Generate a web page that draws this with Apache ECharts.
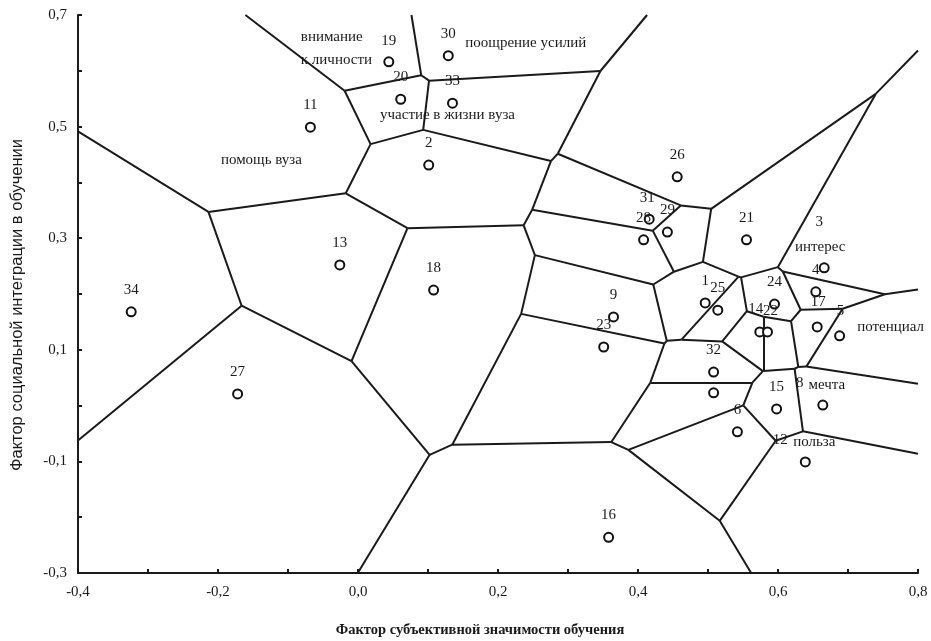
<!DOCTYPE html>
<html><head><meta charset="utf-8">
<script src="https://cdn.jsdelivr.net/npm/echarts@6/dist/echarts.min.js"></script>
<style>html,body{margin:0;padding:0;background:#fff}#c{width:931px;height:641px}</style>
</head><body><div id="c"></div>
<script>
// ---- data ----
const pointIds = ['1','2','3','4','5','6','8','9','10','11','12','13','14','15','16','17','18','19','20','21','22','23','24','25','26','27','28','29','30','31','32','33','34'];
const pointX = [0.496,0.101,0.666,0.654,0.688,0.542,0.664,0.365,0.508,-0.068,0.639,-0.026,0.574,0.598,0.358,0.656,0.108,0.044,0.061,0.555,0.585,0.351,0.595,0.514,0.456,-0.172,0.408,0.442,0.129,0.416,0.508,0.135,-0.324];
const pointY = [0.184,0.431,0.247,0.204,0.125,-0.047,0.001,0.159,0.023,0.499,-0.101,0.252,0.132,-0.006,-0.236,0.141,0.207,0.616,0.549,0.297,0.132,0.105,0.182,0.171,0.410,0.021,0.297,0.311,0.627,0.334,0.060,0.542,0.168];
const xTickValues = [-0.4,-0.2,0.0,0.2,0.4,0.6,0.8];
const xTickLabels = ['-0,4','-0,2','0,0','0,2','0,4','0,6','0,8'];
const yTickValues = [-0.3,-0.1,0.1,0.3,0.5,0.7];
const yTickLabels = ['-0,3','-0,1','0,1','0,3','0,5','0,7'];
const wordTexts = ['интерес','потенциал','мечта','польза','внимание\nк личности','поощрение усилий','участие в жизни вуза','помощь вуза'];
const wordAnchors = ['3','5','8','12','19','30','33','11'];
const xTitle = 'Фактор субъективной значимости обучения';
const yTitle = 'Фактор социальной интеграции в обучении';

// ---- layout / style config ----
const X_MIN = -0.4, X_MAX = 0.8, Y_MIN = -0.3, Y_MAX = 0.7;
const labelShift = {'3':[-5,-24],'8':[-23,0],'12':[-25,0],'14':[-4,-1],'22':[3,1],'17':[1,-3],'5':[1,-3],'19':[0,1],'31':[-2,1]};
const hiddenLabels = {'10':true};
const wordStyle = [
  {off:[-4,-21],align:'center'},
  {off:[51,-9],align:'center'},
  {off:[4,-20],align:'center'},
  {off:[9,-20],align:'center'},
  {off:[-88,-13],align:'left'},
  {off:[17,-13],align:'left'},
  {off:[-5,12],align:'center'},
  {off:[-49,33],align:'center'}
];

// ---- Voronoi (data space), clipped to plot rectangle ----
function voronoiEdges(xs, ys){
  const n = xs.length, edges = [];
  for (let i=0;i<n;i++){
    let poly = [[X_MIN,Y_MIN],[X_MAX,Y_MIN],[X_MAX,Y_MAX],[X_MIN,Y_MAX]];
    let tags = [-1,-1,-1,-1];
    for (let j=0;j<n;j++){
      if (j===i) continue;
      const dx = xs[j]-xs[i], dy = ys[j]-ys[i];
      const mx = (xs[i]+xs[j])/2, my = (ys[i]+ys[j])/2;
      const f = p => (p[0]-mx)*dx + (p[1]-my)*dy;
      const np = [], nt = [];
      const m = poly.length;
      for (let k=0;k<m;k++){
        const a = poly[k], b = poly[(k+1)%m], t = tags[k];
        const fa = f(a), fb = f(b);
        const inter = () => { const s = fa/(fa-fb); return [a[0]+(b[0]-a[0])*s, a[1]+(b[1]-a[1])*s]; };
        if (fa<=0 && fb<=0){ np.push(a); nt.push(t); }
        else if (fa<=0 && fb>0){ np.push(a); nt.push(t); np.push(inter()); nt.push(j); }
        else if (fa>0 && fb<=0){ np.push(inter()); nt.push(t); }
      }
      poly = np; tags = nt;
      if (poly.length===0) break;
    }
    const m = poly.length;
    for (let k=0;k<m;k++){
      const t = tags[k];
      if (t>i){
        const a = poly[k], b = poly[(k+1)%m];
        if (Math.hypot(a[0]-b[0], a[1]-b[1]) > 1e-9) edges.push({coords:[a,b]});
      }
    }
  }
  return edges;
}

const edges = voronoiEdges(pointX, pointY);

const pointData = pointIds.map((id,i)=>{
  const item = {name:id, value:[pointX[i], pointY[i]]};
  if (hiddenLabels[id]) item.label = {show:false};
  else if (labelShift[id]) item.label = {offset: labelShift[id]};
  return item;
});

const wordData = wordTexts.map((w,k)=>{
  const idx = pointIds.indexOf(wordAnchors[k]);
  return [pointX[idx], pointY[idx], k];
});

function tickFmt(values, labels){
  return v => { for (let i=0;i<values.length;i++){ if (Math.abs(values[i]-v)<1e-6) return labels[i]; } return ''; };
}

const serif = 'Liberation Serif';
const chart = echarts.init(document.getElementById('c'), null, {renderer:'canvas'});
chart.setOption({
  backgroundColor:'#ffffff',
  animation:false,
  grid:{left:78, top:15, right:13, bottom:68},
  xAxis:{type:'value', min:X_MIN, max:X_MAX, interval:0.1,
    axisLine:{show:true, onZero:false, lineStyle:{color:'#1a1a1a', width:2}},
    axisTick:{show:true, inside:true, length:4, lineStyle:{color:'#1a1a1a', width:2}},
    axisLabel:{formatter: tickFmt(xTickValues, xTickLabels), color:'#1a1a1a', fontFamily:serif, fontSize:15, margin:12},
    splitLine:{show:false}},
  yAxis:{type:'value', min:Y_MIN, max:Y_MAX, interval:0.1,
    axisLine:{show:true, onZero:false, lineStyle:{color:'#1a1a1a', width:2}},
    axisTick:{show:true, inside:true, length:4, lineStyle:{color:'#1a1a1a', width:2}},
    axisLabel:{formatter: tickFmt(yTickValues, yTickLabels), color:'#1a1a1a', fontFamily:serif, fontSize:15, margin:11},
    splitLine:{show:false}},
  graphic:[
    {type:'text', x:480, y:630, style:{text:xTitle, font:'bold 14.5px "Liberation Serif"', fill:'#1a1a1a', align:'center', verticalAlign:'middle'}},
    {type:'text', x:17, y:305, rotation:Math.PI/2, style:{text:yTitle, font:'16.5px "Liberation Sans"', fill:'#1a1a1a', align:'center', verticalAlign:'middle'}}
  ],
  series:[
    {type:'lines', coordinateSystem:'cartesian2d', polyline:false, silent:true, z:1,
      lineStyle:{color:'#1a1a1a', width:2, opacity:1, curveness:0},
      data: edges},
    {type:'scatter', z:3, symbol:'circle', symbolSize:9,
      itemStyle:{color:'#ffffff', borderColor:'#111111', borderWidth:2, opacity:1},
      label:{show:true, position:'top', distance:9, formatter:'{b}', color:'#1a1a1a', fontFamily:serif, fontSize:15},
      data: pointData},
    {type:'custom', z:4, silent:true, coordinateSystem:'cartesian2d',
      data: wordData,
      renderItem: function(params, api){
        const k = api.value(2);
        const p = api.coord([api.value(0), api.value(1)]);
        const st = wordStyle[k];
        return {type:'text', x: p[0]+st.off[0], y: p[1]+st.off[1],
          style:{text: wordTexts[k], fill:'#1a1a1a', font:'15px "Liberation Serif"',
            align: st.align, verticalAlign:'middle', lineHeight:23}};
      }}
  ]
});
</script></body></html>
